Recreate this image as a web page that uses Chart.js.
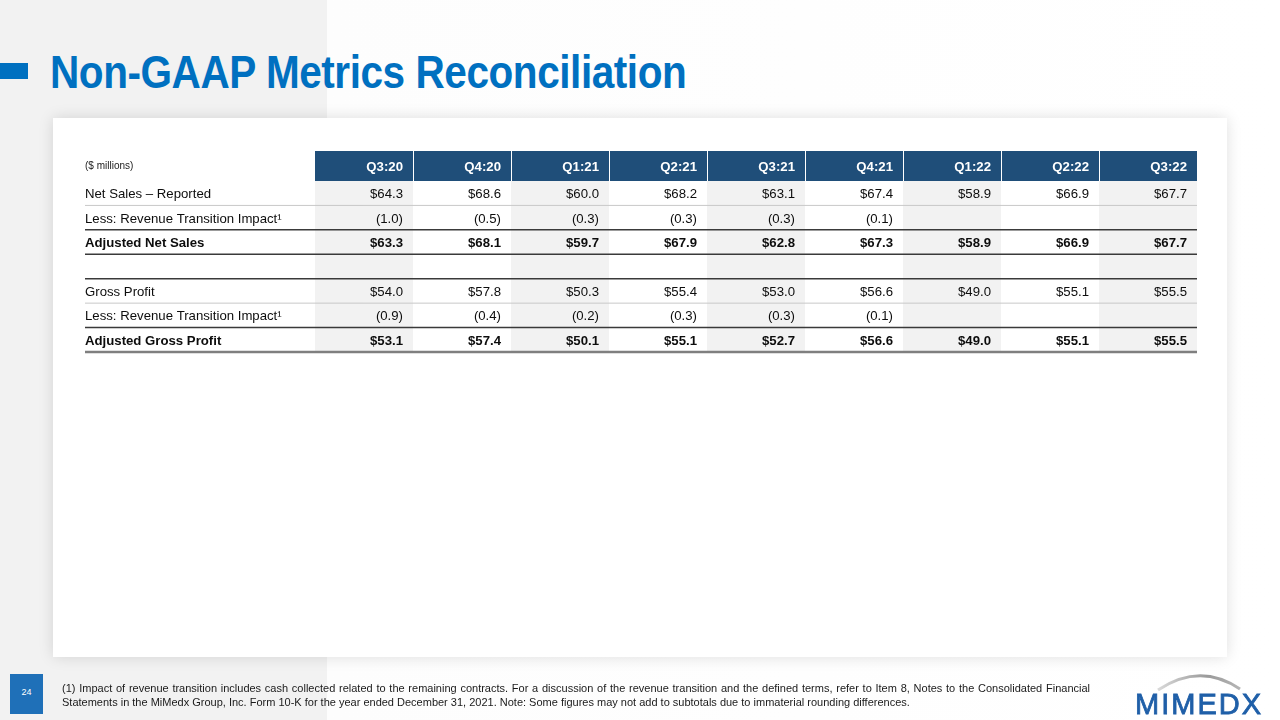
<!DOCTYPE html>
<html>
<head>
<meta charset="utf-8">
<script src="https://cdn.jsdelivr.net/npm/chart.js@4.4.1/dist/chart.umd.min.js"></script>
<style>
  html, body { margin: 0; padding: 0; }
  body {
    width: 1280px; height: 720px; position: relative; overflow: hidden;
    background: linear-gradient(to right, #f2f2f2 0, #f2f2f2 327px, #fdfdfd 327px, #ffffff 100%);
    font-family: "Liberation Sans", Arial, sans-serif;
  }
  .tab { position: absolute; left: 0; top: 63px; width: 28px; height: 16px; background: #0070c0; }
  .title {
    position: absolute; left: 50px; top: 49px; margin: 0; transform-origin: 0 0;
    font-size: 46px; line-height: 46px; font-weight: bold; color: #0070c0; white-space: nowrap;
    letter-spacing: -0.5px;
  }
  .card {
    position: absolute; left: 53px; top: 118px; width: 1174px; height: 539px;
    background: #fff; box-shadow: 0 0 14px rgba(0, 0, 0, 0.13);
  }
  #table { position: absolute; left: 0; top: 0; }
  .page {
    position: absolute; left: 10px; top: 674px; width: 33px; height: 40px; background: #1f70b8;
    color: #fff; font-size: 9px; text-align: center; line-height: 37px;
  }
  .note {
    position: absolute; left: 62px; top: 681px; width: 1028px;
    font-size: 11px; line-height: 14px; color: #1a1a1a; text-align: justify;
  }
  .logo { position: absolute; left: 1130px; top: 668px; }
</style>
</head>
<body>
<div class="tab"></div>
<div class="title" id="title">Non-GAAP Metrics Reconciliation</div>
<div class="card"></div>
<canvas id="table" width="1280" height="720"></canvas>
<div class="page">24</div>
<div class="note">(1) Impact of revenue transition includes cash collected related to the remaining contracts. For a discussion of the revenue transition and the defined terms, refer to Item 8, Notes to the Consolidated Financial Statements in the MiMedx Group, Inc. Form 10-K for the year ended December 31, 2021. Note: Some figures may not add to subtotals due to immaterial rounding differences.</div>
<svg class="logo" width="140" height="50">
  <defs>
    <linearGradient id="arc" x1="0" x2="1" y1="0" y2="0">
      <stop offset="0" stop-color="#d9d9d9"/>
      <stop offset="0.6" stop-color="#9a9a9a"/>
      <stop offset="1" stop-color="#b5b5b5"/>
    </linearGradient>
  </defs>
  <path d="M28 22 Q 70 -6 110 21" stroke="url(#arc)" stroke-width="3" fill="none"/>
  <text x="5" y="46" font-family="Liberation Sans, Arial" font-size="29" fill="#1f5fa8" stroke="#1f5fa8" stroke-width="0.8" textLength="126">MIMEDX</text>
</svg>
<script>
// columns and rows of the reconciliation table ($ millions)
const quarters = ['Q3:20', 'Q4:20', 'Q1:21', 'Q2:21', 'Q3:21', 'Q4:21', 'Q1:22', 'Q2:22', 'Q3:22'];
const rowKeys = ['netSales', 'nsImpact', 'adjNetSales', 'spacer', 'grossProfit', 'gpImpact', 'adjGrossProfit'];
const rowLabels = ['Net Sales – Reported', 'Less: Revenue Transition Impact¹', 'Adjusted Net Sales', '',
                   'Gross Profit', 'Less: Revenue Transition Impact¹', 'Adjusted Gross Profit'];
const unitLabel = '($ millions)';

const netSalesReported    = [64.3, 68.6, 60.0, 68.2, 63.1, 67.4, 58.9, 66.9, 67.7];
const netSalesImpact      = [-1.0, -0.5, -0.3, -0.3, -0.3, -0.1, null, null, null];
const adjustedNetSales    = [63.3, 68.1, 59.7, 67.9, 62.8, 67.3, 58.9, 66.9, 67.7];
const grossProfit         = [54.0, 57.8, 50.3, 55.4, 53.0, 56.6, 49.0, 55.1, 55.5];
const grossProfitImpact   = [-0.9, -0.4, -0.2, -0.3, -0.3, -0.1, null, null, null];
const adjustedGrossProfit = [53.1, 57.4, 50.1, 55.1, 52.7, 56.6, 49.0, 55.1, 55.5];

// styling per row
const boldRows = [false, false, true, false, false, false, true];
const ruleBelow = ['light', 'dark', 'dark', 'dark', 'light', 'dark', 'bottom'];

// squeeze the title to the slide's width
const title = document.getElementById('title');
title.style.transform = 'scaleX(' + (636 / title.scrollWidth) + ')';

const FONT = '"Liberation Sans", Arial, sans-serif';
const SIZE = 13.2;
const seriesByRow = {
  netSales: netSalesReported, nsImpact: netSalesImpact, adjNetSales: adjustedNetSales,
  grossProfit: grossProfit, gpImpact: grossProfitImpact, adjGrossProfit: adjustedGrossProfit
};

const datasets = rowKeys.filter(k => seriesByRow[k]).map(k => ({
  label: k,
  bold: boldRows[rowKeys.indexOf(k)],
  data: seriesByRow[k].map((v, i) => v === null ? null : { x: quarters[i], y: k, v: v }).filter(p => p),
  pointRadius: 0,
  showLine: false
}));

function fmt(v) {
  return v < 0 ? '(' + Math.abs(v).toFixed(1) + ')' : '$' + v.toFixed(1);
}

const tablePlugin = {
  id: 'tablePlugin',
  beforeDraw(chart) {
    const { ctx, scales: { x, y } } = chart;
    const band = x.getPixelForValue(1) - x.getPixelForValue(0);
    const midY = (x.top + x.bottom) / 2;
    ctx.save();
    // header band
    ctx.fillStyle = '#1f4e79';
    ctx.fillRect(x.left, x.top, x.right - x.left, x.bottom - x.top);
    // shaded columns
    ctx.fillStyle = '#f2f2f2';
    quarters.forEach((q, i) => {
      if (i % 2) return;
      const cx = x.getPixelForValue(i);
      ctx.fillRect(cx - band / 2, y.top, band, y.bottom - y.top);
    });
    // white separators between header cells
    ctx.strokeStyle = '#ffffff';
    ctx.lineWidth = 1;
    for (let i = 1; i < quarters.length; i++) {
      const bx = Math.round(x.getPixelForValue(i) - band / 2) + 0.5;
      ctx.beginPath(); ctx.moveTo(bx, x.top); ctx.lineTo(bx, x.bottom); ctx.stroke();
    }
    // header labels, right aligned in each column
    ctx.fillStyle = '#ffffff';
    ctx.font = 'bold ' + SIZE + 'px ' + FONT;
    ctx.textBaseline = 'middle';
    ctx.textAlign = 'right';
    quarters.forEach((q, i) => {
      ctx.fillText(x.getLabelForValue(i), x.getPixelForValue(i) + band / 2 - 10, midY + 1);
    });
    // unit label in the header row
    ctx.fillStyle = '#1a1a1a';
    ctx.font = '10px ' + FONT;
    ctx.textAlign = 'left';
    ctx.fillText(unitLabel, y.left, midY);
    ctx.restore();
  },
  afterDatasetsDraw(chart) {
    const { ctx, scales: { x, y } } = chart;
    const band = x.getPixelForValue(1) - x.getPixelForValue(0);
    const rowH = y.getPixelForValue(1) - y.getPixelForValue(0);
    ctx.save();
    // row rules
    ruleBelow.forEach((r, i) => {
      const by = y.getPixelForValue(i) + rowH / 2;
      if (r === 'light') { ctx.strokeStyle = '#c8c8c8'; ctx.lineWidth = 1; }
      else if (r === 'dark') { ctx.strokeStyle = '#3a3a3a'; ctx.lineWidth = 1.5; }
      else { ctx.strokeStyle = '#7f7f7f'; ctx.lineWidth = 2.5; }
      ctx.beginPath(); ctx.moveTo(y.left, by); ctx.lineTo(x.right, by); ctx.stroke();
    });
    // cell values
    ctx.textAlign = 'right';
    ctx.textBaseline = 'middle';
    ctx.fillStyle = '#0d0d0d';
    chart.data.datasets.forEach((ds, di) => {
      ctx.font = (ds.bold ? 'bold ' : '') + SIZE + 'px ' + FONT;
      chart.getDatasetMeta(di).data.forEach((pt, j) => {
        ctx.fillText(fmt(ds.data[j].v), pt.x + band / 2 - 10, pt.y + 1.5);
      });
    });
    ctx.restore();
  }
};

new Chart(document.getElementById('table'), {
  type: 'scatter',
  data: { datasets },
  options: {
    responsive: false,
    animation: false,
    events: [],
    layout: { padding: { left: 85, right: 83, top: 151, bottom: 368 } },
    plugins: { legend: { display: false }, tooltip: { enabled: false } },
    scales: {
      x: {
        type: 'category',
        labels: quarters,
        position: 'top',
        offset: true,
        grid: { display: false },
        border: { display: false },
        ticks: { display: false },
        afterFit(scale) { scale.height = 30; }
      },
      y: {
        type: 'category',
        labels: rowKeys,
        offset: true,
        grid: { display: false },
        border: { display: false },
        ticks: {
          color: '#0d0d0d',
          crossAlign: 'far',
          autoSkip: false,
          labelOffset: 1.5,
          callback: (value, index) => rowLabels[index],
          font: (c) => ({ family: FONT, size: SIZE, weight: boldRows[c.index] ? 'bold' : 'normal' })
        },
        afterFit(scale) { scale.width = 230; }
      }
    }
  },
  plugins: [tablePlugin]
});
</script>
</body>
</html>
